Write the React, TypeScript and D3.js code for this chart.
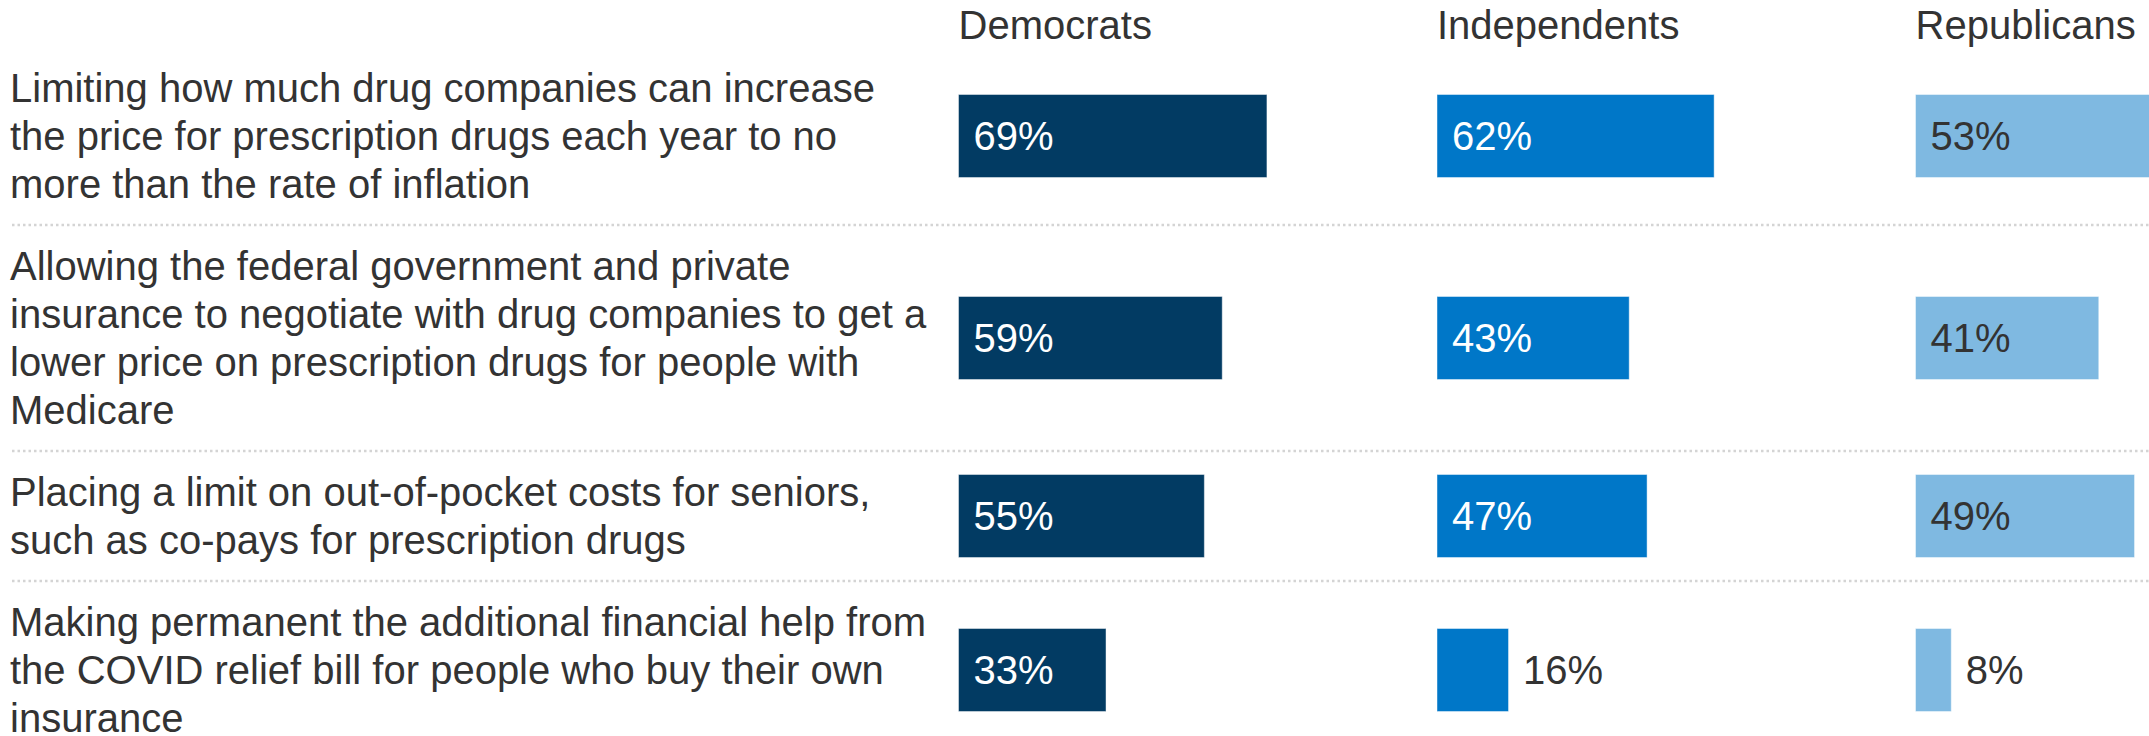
import React from "react";
import * as d3 from "d3";

const parties: string[] = ["Democrats", "Independents", "Republicans"];

const categories: string[][] = [
  [
    "Limiting how much drug companies can increase",
    "the price for prescription drugs each year to no",
    "more than the rate of inflation",
  ],
  [
    "Allowing the federal government and private",
    "insurance to negotiate with drug companies to get a",
    "lower price on prescription drugs for people with",
    "Medicare",
  ],
  [
    "Placing a limit on out-of-pocket costs for seniors,",
    "such as co-pays for prescription drugs",
  ],
  [
    "Making permanent the additional financial help from",
    "the COVID relief bill for people who buy their own",
    "insurance",
  ],
];

const democrats: number[] = [69, 59, 55, 33];
const independents: number[] = [62, 43, 47, 16];
const republicans: number[] = [53, 41, 49, 8];

const seriesValues: number[][] = [democrats, independents, republicans];
const colors: string[] = ["#023b63", "#0077c8", "#7fb9e1"];
const insideTextColors: string[] = ["#ffffff", "#ffffff", "#333333"];

const W = 2149;
const H = 736;
const FONT = "'Liberation Sans', Arial, Helvetica, sans-serif";
const FS = 40;
const LH = 48;
const ROW_PAD = 17;
const TOP = 47;
const BAR_H = 83;

export default function App() {
  const colX = d3
    .scaleBand<string>()
    .domain(parties)
    .range([958.5, 958.5 + 3 * 478.5])
    .paddingInner(0)
    .paddingOuter(0);

  const x = d3.scaleLinear().domain([0, 100]).range([0, 447]);

  // row layout from line counts
  const heights = categories.map((c) => c.length * LH + ROW_PAD * 2);
  const tops: number[] = [];
  let acc = TOP;
  heights.forEach((h) => {
    tops.push(acc);
    acc += h;
  });

  return (
    <svg
      width={W}
      height={H}
      style={{ position: "absolute", left: 0, top: 0, display: "block" }}
      fontFamily={FONT}
    >
      <rect width={W} height={H} fill="#ffffff" />
      {parties.map((p) => (
        <text key={p} x={colX(p)} y={38.5} fontSize={FS} fill="#333333">
          {p}
        </text>
      ))}
      {categories.map((lines, i) => {
        const top = tops[i];
        const h = heights[i];
        const cy = top + h / 2;
        const blockTop = cy - (lines.length * LH) / 2;
        return (
          <g key={i}>
            {i > 0 && (
              <line
                x1={12}
                x2={W}
                y1={top}
                y2={top}
                stroke="#d4d4d4"
                strokeWidth={2.5}
                strokeDasharray="2.5 3"
              />
            )}
            {lines.map((ln, j) => (
              <text
                key={j}
                x={10}
                y={blockTop + j * LH + 37.9}
                fontSize={FS}
                fill="#333333"
              >
                {ln}
              </text>
            ))}
            {parties.map((p, k) => {
              const v = seriesValues[k][i];
              const x0 = colX(p) as number;
              const w = x(v);
              const inside = v >= 25;
              return (
                <g key={p}>
                  <rect
                    x={x0}
                    y={cy - BAR_H / 2}
                    width={w}
                    height={BAR_H}
                    fill={colors[k]}
                    stroke="#ffffff"
                    strokeOpacity={0.45}
                    strokeWidth={1}
                  />
                  <text
                    x={inside ? x0 + 15 : x0 + w + 14.5}
                    y={cy + 14.3}
                    fontSize={FS}
                    fill={inside ? insideTextColors[k] : "#333333"}
                  >
                    {`${v}%`}
                  </text>
                </g>
              );
            })}
          </g>
        );
      })}
    </svg>
  );
}
